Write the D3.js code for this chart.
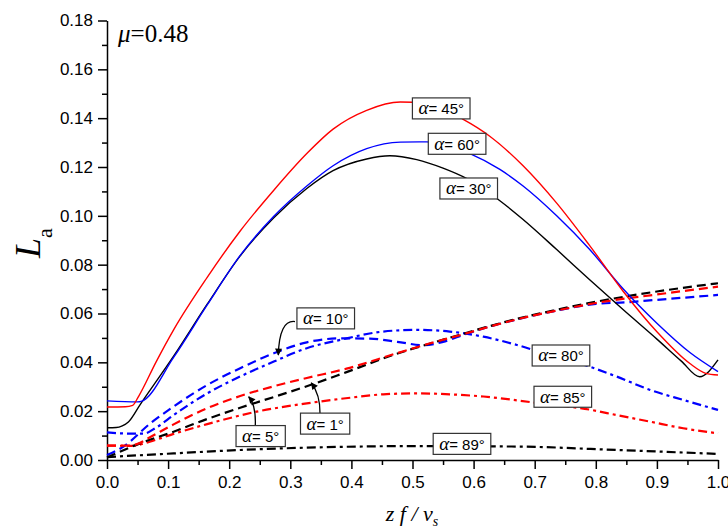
<!DOCTYPE html>
<html>
<head>
<meta charset="utf-8">
<script src="https://cdn.jsdelivr.net/npm/d3@7"></script>
<style>
  body { margin: 0; background: #fff; }
  svg { display: block; }
  .tick text { font-family: "Liberation Sans", Arial, sans-serif; font-size: 17px; fill: #000; }
</style>
</head>
<body>
<svg id="chart" width="728" height="528"></svg>
<script>
'use strict';

// values, [zf/vs, La]
const alpha30 = [[0, 0.0132], [0.015, 0.0133], [0.025, 0.0140], [0.035, 0.0156], [0.054, 0.0226],
  [0.109, 0.0425], [0.164, 0.0638], [0.218, 0.0836], [0.273, 0.0992], [0.327, 0.1112],
  [0.37, 0.1185], [0.425, 0.1233], [0.463, 0.1246], [0.507, 0.1230], [0.55, 0.1195],
  [0.589, 0.1152], [0.643, 0.1062], [0.681, 0.0985], [0.736, 0.0862], [0.79, 0.0738],
  [0.845, 0.0615], [0.9, 0.0495], [0.94, 0.0405], [0.97, 0.0341], [1.0, 0.0410]];
const alpha45 = [[0, 0.0217], [0.03, 0.0218], [0.042, 0.0224], [0.052, 0.0262], [0.08, 0.0400],
  [0.109, 0.0533], [0.164, 0.0748], [0.218, 0.0938], [0.273, 0.1105], [0.327, 0.1255],
  [0.37, 0.1355], [0.425, 0.1432], [0.48, 0.1466], [0.52, 0.1462], [0.583, 0.1395],
  [0.627, 0.1325], [0.681, 0.1205], [0.736, 0.1052], [0.79, 0.0878], [0.845, 0.0690],
  [0.9, 0.0525], [0.954, 0.0395], [0.98, 0.0355], [1.0, 0.0348]];
const alpha60 = [[0, 0.0242], [0.05, 0.0238], [0.056, 0.0240], [0.109, 0.0420], [0.164, 0.0635],
  [0.218, 0.0838], [0.273, 0.0998], [0.327, 0.1122], [0.37, 0.1205], [0.425, 0.1275],
  [0.48, 0.1302], [0.523, 0.1303], [0.594, 0.1255], [0.643, 0.1190], [0.681, 0.1122],
  [0.736, 0.1000], [0.79, 0.0862], [0.845, 0.0700], [0.9, 0.0560], [0.954, 0.0440], [1.0, 0.0362]];

const alpha1 = [[0, 0.0010], [0.054, 0.0068], [0.109, 0.0116], [0.164, 0.0168], [0.218, 0.0214],
  [0.273, 0.0258], [0.327, 0.0302], [0.392, 0.0360], [0.474, 0.0435], [0.529, 0.0477],
  [0.583, 0.0517], [0.616, 0.0541], [0.671, 0.0578], [0.73, 0.0612], [0.8, 0.0648],
  [0.9, 0.0690], [1.0, 0.0724]];
const alpha5 = [[0, 0.0059], [0.035, 0.0059], [0.05, 0.0066], [0.071, 0.0094], [0.109, 0.0146],
  [0.164, 0.0212], [0.218, 0.0262], [0.273, 0.0302], [0.327, 0.0336], [0.392, 0.0374],
  [0.474, 0.0437], [0.529, 0.0478], [0.583, 0.0515], [0.616, 0.0539], [0.671, 0.0576],
  [0.73, 0.0609], [0.8, 0.0643], [0.9, 0.0678], [1.0, 0.0710]];
const alpha10 = [[0, 0.0020], [0.027, 0.0055], [0.071, 0.0150], [0.109, 0.0219], [0.164, 0.0307],
  [0.218, 0.0376], [0.273, 0.0437], [0.327, 0.0482], [0.38, 0.0498], [0.43, 0.0497],
  [0.475, 0.0484], [0.518, 0.0470], [0.55, 0.0484], [0.583, 0.0512], [0.616, 0.0539],
  [0.671, 0.0576], [0.73, 0.0609], [0.8, 0.0639], [0.85, 0.0646], [0.9, 0.0656], [1.0, 0.0676]];
const alpha80 = [[0, 0.0113], [0.04, 0.0108], [0.06, 0.0108], [0.08, 0.0132], [0.109, 0.0184],
  [0.164, 0.0273], [0.218, 0.0342], [0.273, 0.0403], [0.327, 0.0458], [0.382, 0.0492],
  [0.452, 0.0526], [0.507, 0.0533], [0.561, 0.0526], [0.616, 0.0505], [0.671, 0.0471],
  [0.73, 0.0425], [0.79, 0.0382], [0.834, 0.0342], [0.889, 0.0287], [0.943, 0.0246], [1.0, 0.0205]];
const alpha85 = [[0, 0.0059], [0.04, 0.0058], [0.07, 0.0075], [0.109, 0.0107], [0.164, 0.0147],
  [0.245, 0.0198], [0.327, 0.0232], [0.398, 0.0255], [0.452, 0.0269], [0.507, 0.0273],
  [0.561, 0.0269], [0.616, 0.0260], [0.7, 0.0235], [0.793, 0.0205], [0.834, 0.0184],
  [0.889, 0.0157], [0.943, 0.0130], [1.0, 0.0109]];
const alpha89 = [[0, 0.0012], [0.109, 0.0027], [0.218, 0.0041], [0.409, 0.0055], [0.5, 0.0057],
  [0.671, 0.0055], [0.834, 0.0041], [1.0, 0.0025]];

const xTickValues = [0, 0.1, 0.2, 0.3, 0.4, 0.5, 0.6, 0.7, 0.8, 0.9, 1.0];
const yTickValues = [0, 0.02, 0.04, 0.06, 0.08, 0.10, 0.12, 0.14, 0.16, 0.18];

// label boxes: angle, centre (data units)
const labels = [
  ['45', 0.547, 0.1440], ['60', 0.573, 0.1295], ['30', 0.592, 0.1112],
  ['10', 0.358, 0.0580], ['80', 0.743, 0.0428], ['85', 0.746, 0.0259],
  ['89', 0.581, 0.0066], ['5', 0.2515, 0.0098], ['1', 0.357, 0.0149]
];
// arrows: start, control, tip (data units)
const arrows = [
  [[0.3077, 0.0567], [0.282, 0.0575], [0.2804, 0.0430]],
  [[0.2427, 0.0141], [0.244, 0.0225], [0.2319, 0.0259]],
  [[0.3486, 0.0191], [0.349, 0.0268], [0.3344, 0.0316]]
];

const series = [
  { data: alpha89, color: '#000', dash: '9,4,3,4', width: 2.2 },
  { data: alpha85, color: '#f00', dash: '9,4,3,4', width: 2.2 },
  { data: alpha80, color: '#00f', dash: '9,4,3,4', width: 2.2 },
  { data: alpha10, color: '#00f', dash: '9,5', width: 2.2 },
  { data: alpha1, color: '#000', dash: '9,5', width: 2.2 },
  { data: alpha5, color: '#f00', dash: '9,5', width: 2.2 },
  { data: alpha30, color: '#000', dash: null, width: 1.4 },
  { data: alpha60, color: '#00f', dash: null, width: 1.4 },
  { data: alpha45, color: '#f00', dash: null, width: 1.4 }
];

function makeChart() {
  const svg = d3.select('#chart');

  const x = d3.scaleLinear().domain([0, 1]).range([107, 718]);
  const y = d3.scaleLinear().domain([0, 0.18]).range([460, 20.5]);

  // minor ticks
  svg.append('g')
     .attr('transform', 'translate(0,460)')
     .call(d3.axisBottom(x).tickValues(d3.range(0.05, 1, 0.1)).tickSize(5).tickSizeOuter(0).tickFormat(''))
     .call(g => g.select('.domain').remove());
  svg.append('g')
     .attr('transform', 'translate(107,0)')
     .call(d3.axisLeft(y).tickValues(d3.range(0.01, 0.18, 0.02)).tickSize(5).tickSizeOuter(0).tickFormat(''))
     .call(g => g.select('.domain').remove());

  svg.append('g')
     .attr('transform', 'translate(0,460)')
     .call(d3.axisBottom(x).tickValues(xTickValues).tickSize(9).tickPadding(7).tickSizeOuter(0).tickFormat(d3.format('.1f')));
  svg.append('g')
     .attr('transform', 'translate(107,0)')
     .call(d3.axisLeft(y).tickValues(yTickValues).tickSize(9).tickPadding(5).tickSizeOuter(0).tickFormat(d3.format('.2f')));

  svg.selectAll('.domain, .tick line').attr('stroke', '#000').attr('stroke-width', 1.5);
  svg.selectAll('.tick text').attr('font-family', null).attr('font-size', null);

  const line = d3.line()
                 .x(function(d) { return x(d[0]); })
                 .y(function(d) { return y(d[1]); })
                 .curve(d3.curveMonotoneX);

  svg.append('g').selectAll('path')
     .data(series)
     .enter()
     .append('path')
     .attr('d', function(d) { return line(d.data); })
     .attr('fill', 'none')
     .attr('stroke', function(d) { return d.color; })
     .attr('stroke-width', function(d) { return d.width; })
     .attr('stroke-dasharray', function(d) { return d.dash; });

  // arrows
  svg.append('defs').append('marker')
     .attr('id', 'head')
     .attr('viewBox', '0 0 10 10')
     .attr('refX', 9).attr('refY', 5)
     .attr('markerWidth', 10).attr('markerHeight', 7)
     .attr('markerUnits', 'userSpaceOnUse')
     .attr('orient', 'auto')
     .append('path')
     .attr('d', 'M0,0 L10,5 L0,10 z')
     .attr('fill', '#000');

  svg.append('g').selectAll('path')
     .data(arrows)
     .enter()
     .append('path')
     .attr('d', function(a) {
       return 'M' + x(a[0][0]) + ',' + y(a[0][1]) +
              ' Q' + x(a[1][0]) + ',' + y(a[1][1]) +
              ' ' + x(a[2][0]) + ',' + y(a[2][1]);
     })
     .attr('fill', 'none')
     .attr('stroke', '#000')
     .attr('stroke-width', 1.3)
     .attr('marker-end', 'url(#head)');

  // label boxes
  labels.forEach(function(l) {
    const g = svg.append('g').attr('transform', 'translate(' + x(l[1]) + ',' + y(l[2]) + ')');
    const t = g.append('text').attr('text-anchor', 'middle').attr('y', 6);
    t.append('tspan')
     .attr('font-family', '"Liberation Serif", "Times New Roman", serif')
     .attr('font-style', 'italic')
     .attr('font-size', 19)
     .text('\u03b1');
    t.append('tspan')
     .attr('font-family', '"Liberation Sans", Arial, sans-serif')
     .attr('font-size', 15)
     .text('= ' + l[0] + '\u00b0');
    const bb = t.node().getBBox();
    g.insert('rect', 'text')
     .attr('x', bb.x - 6)
     .attr('y', -10.5)
     .attr('width', bb.width + 12)
     .attr('height', 21)
     .attr('fill', '#fff')
     .attr('stroke', '#333')
     .attr('stroke-width', 1.2);
  });

  // mu label
  const mu = svg.append('text')
                .attr('x', 118).attr('y', 42)
                .attr('font-family', '"Liberation Serif", "Times New Roman", serif')
                .attr('font-size', 25);
  mu.append('tspan').attr('font-style', 'italic').text('\u03bc');
  mu.append('tspan').text('=0.48');

  // axis titles
  const xt = svg.append('text')
                .attr('x', 412).attr('y', 521)
                .attr('text-anchor', 'middle')
                .attr('font-family', '"Liberation Serif", "Times New Roman", serif')
                .attr('font-style', 'italic')
                .attr('font-size', 22);
  xt.append('tspan').text('z f / v');
  xt.append('tspan').attr('font-size', 14).attr('dy', 5).text('s');

  const yt = svg.append('text')
                .attr('transform', 'translate(40,258) rotate(-90)')
                .attr('font-family', '"Liberation Serif", "Times New Roman", serif');
  yt.append('tspan').attr('font-style', 'italic').attr('font-size', 36).text('L');
  yt.append('tspan').attr('font-size', 22).attr('dy', 12).text('a');
}

makeChart();
</script>
</body>
</html>
